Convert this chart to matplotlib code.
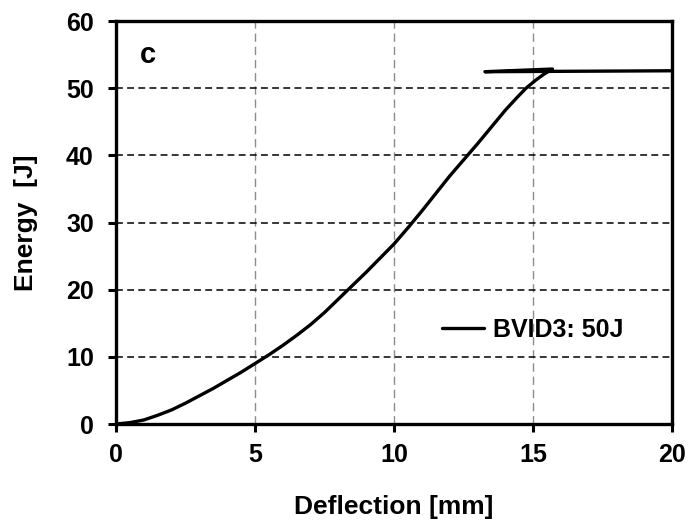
import numpy as np
import matplotlib
matplotlib.use('Agg')
import matplotlib.pyplot as plt

# Energy vs deflection data; last two points = rebound plateau
deflection = [0, 0.5, 1, 1.5, 2, 2.5, 3, 3.5, 4, 4.5, 5, 5.5, 6, 6.5, 7, 7.5, 8, 8.5,
              9, 9.5, 10, 10.5, 11, 11.5, 12, 12.5, 13, 13.5, 14, 14.4, 14.75, 15.1,
              15.4, 15.7, 13.27, 20.5]
energy = [0, 0.2, 0.6, 1.3, 2.1, 3.1, 4.2, 5.3, 6.5, 7.7, 9.0, 10.3, 11.7, 13.2, 14.8,
          16.6, 18.6, 20.6, 22.6, 24.7, 26.8, 29.2, 31.7, 34.3, 36.9, 39.3, 41.7, 44.2,
          46.7, 48.5, 50.0, 51.2, 52.1, 52.85, 52.45, 52.6]
x_ticks = [0, 5, 10, 15, 20]
y_ticks = [0, 10, 20, 30, 40, 50, 60]

plt.rcParams['font.family'] = ['Liberation Sans', 'DejaVu Sans']
plt.rcParams['font.weight'] = 'bold'

fig = plt.figure(figsize=(6.94, 5.27), dpi=100)
ax = fig.add_axes([116 / 694, 103 / 527, 556 / 694, 403 / 527])

ax.plot(deflection, energy, color='black', lw=2.4, label='BVID3: 50J',
        solid_capstyle='round', solid_joinstyle='round')

ax.set_xlim(0, 20)
ax.set_ylim(0, 60)
ax.set_xticks(x_ticks)
ax.set_yticks(y_ticks)

# gridlines: vertical grey, horizontal black
for xv in x_ticks[1:-1]:
    ax.axvline(xv, color='#8c8c8c', lw=1.0, dashes=(6, 3.5), zorder=0)
for yv in y_ticks[1:-1]:
    ax.axhline(yv, color='black', lw=1.1, dashes=(4.5, 2.8), zorder=0)

for s in ax.spines.values():
    s.set_linewidth(2.4)
ax.tick_params(direction='out', length=6, width=2.2, labelsize=18)
ax.tick_params(axis='x', pad=8)
ax.tick_params(axis='y', pad=10)
for lab in ax.get_xticklabels() + ax.get_yticklabels():
    lab.set_fontweight('bold')

ax.set_xlabel('Deflection [mm]', fontsize=19, fontweight='bold', labelpad=20)
ax.set_ylabel('Energy  [J]', fontsize=19, fontweight='bold', labelpad=20)

ax.text(0.043, 0.896, 'c', transform=ax.transAxes, fontsize=21, fontweight='bold',
        va='baseline', ha='left')

leg = ax.legend(loc='center left', bbox_to_anchor=(0.586, 0.233), frameon=False,
                handlelength=1.7, handletextpad=0.35, borderaxespad=0, borderpad=0,
                prop={'size': 18, 'weight': 'bold'})

fig.savefig('out.png', dpi=100)
